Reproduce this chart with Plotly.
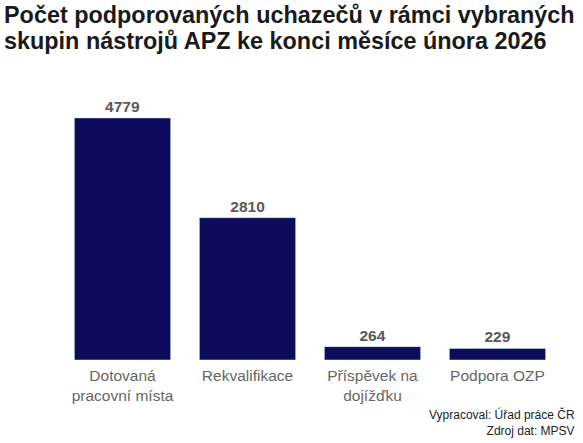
import plotly.graph_objects as go

# data
categories = ["Dotovaná<br>pracovní místa", "Rekvalifikace", "Příspěvek na<br>dojížďku", "Podpora OZP"]
values = [4779, 2810, 264, 229]

title_lines = ["Počet podporovaných uchazečů v rámci vybraných",
               "skupin nástrojů APZ ke konci měsíce února 2026"]
source_text = "Vypracoval: Úřad práce ČR<br>Zdroj dat: MPSV"

fig = go.Figure(go.Bar(
    x=categories,
    y=values,
    marker_color="#0d0b5c",
    text=[f"<b>{v}</b>" for v in values],
    textposition="outside",
    textfont=dict(size=15.5, color="#595959"),
    cliponaxis=False,
))

# title drawn as two lines to keep the tight line spacing
title_annots = [
    dict(text=f"<b>{line}</b>", x=-0.116, xref="paper", xanchor="left",
         y=yy, yref="paper", yanchor="middle", align="left",
         showarrow=False, font=dict(size=23.4, color="#1a1a1a"))
    for line, yy in zip(title_lines, [1.278, 1.181])
]

fig.update_layout(
    width=583, height=443,
    paper_bgcolor="white", plot_bgcolor="white",
    font=dict(family="Arial, Liberation Sans, sans-serif"),
    margin=dict(l=60, r=23, t=90, b=83, autoexpand=False),
    bargap=0.23,
    showlegend=False,
    annotations=title_annots + [
        dict(text=source_text, x=1.034, xref="paper", xanchor="right",
             y=-0.165, yref="paper", yanchor="top", align="right",
             showarrow=False, font=dict(size=12, color="#222222")),
    ],
)
fig.update_xaxes(showline=False, showgrid=False, ticks="", ticklabelstandoff=4,
                 tickfont=dict(size=15.5, color="#666666"))
fig.update_yaxes(visible=False, range=[0, 5330])

# page body has a default 8px margin, drop it so the figure fills the window
fig.write_html("out.html", config={"displayModeBar": False},
               post_script="document.body.style.margin='0px';")
